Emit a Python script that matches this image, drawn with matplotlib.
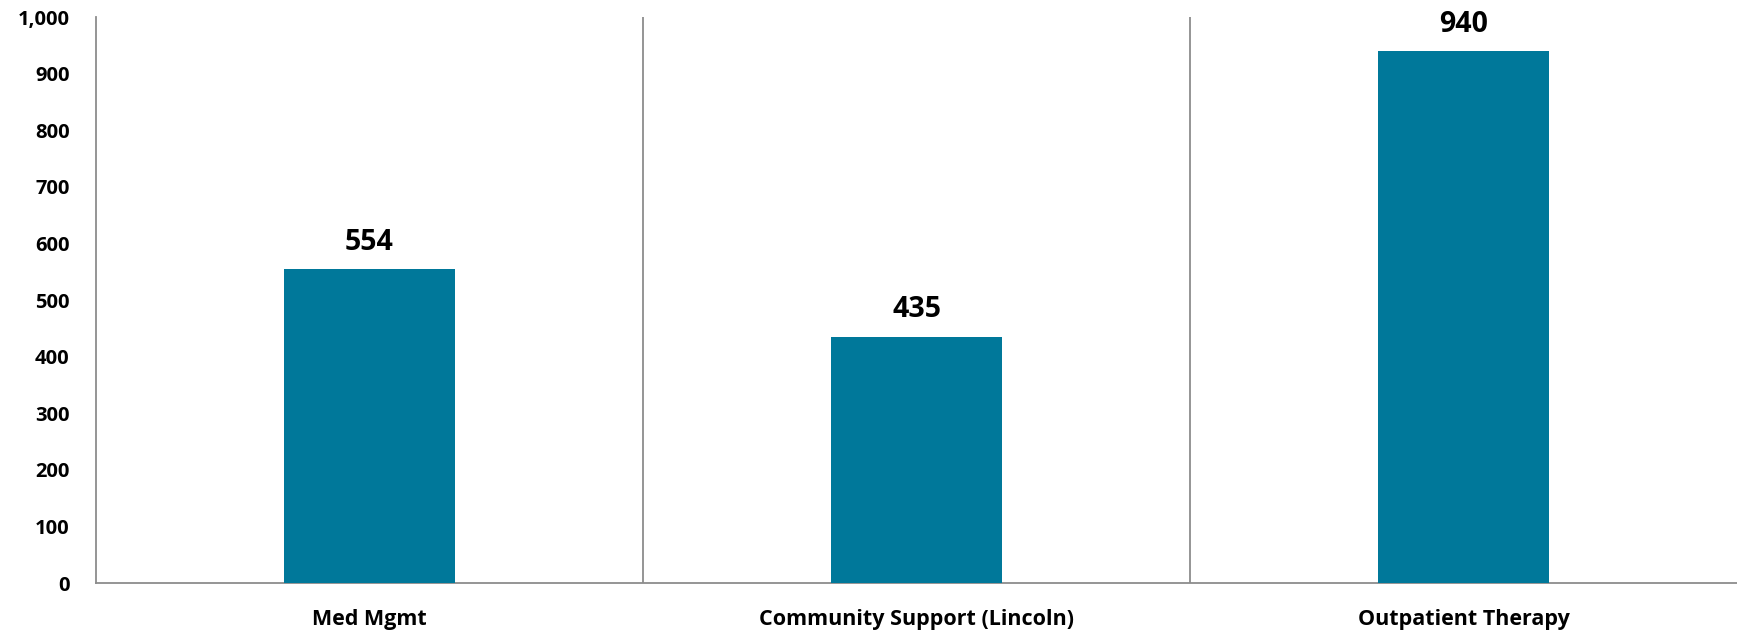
import matplotlib
matplotlib.use('Agg')
import matplotlib.pyplot as plt
from matplotlib.ticker import FuncFormatter

plt.rcParams['font.family'] = ['Open Sans', 'DejaVu Sans']
plt.rcParams['font.weight'] = 'bold'

categories = ['Med Mgmt', 'Community Support (Lincoln)', 'Outpatient Therapy']
values = [554, 435, 940]
y_ticks = [0, 100, 200, 300, 400, 500, 600, 700, 800, 900, 1000]

bar_color = '#00789A'
axis_color = '#8C8C8C'

fig = plt.figure(figsize=(17.37, 6.32), dpi=100)
ax = fig.add_axes([0.0553, 0.0775, 0.9447, 0.8955])

x = list(range(len(categories)))
bars = ax.bar(x, values, width=0.314, color=bar_color, zorder=3)

for b, v in zip(bars, values):
    ax.annotate(f'{v:,}', (b.get_x() + b.get_width() / 2, v),
                xytext=(0, 9), textcoords='offset points',
                ha='center', va='bottom', fontsize=20.5, fontweight='bold')

# category separators
for sep in [0.5, 1.5]:
    ax.axvline(sep, color=axis_color, lw=1.3, zorder=1)

ax.set_xlim(-0.5, len(categories) - 0.5)
ax.set_ylim(0, 1000)
ax.set_yticks(y_ticks)
ax.yaxis.set_major_formatter(FuncFormatter(lambda v, p: f'{int(v):,}'))
ax.set_xticks(x)
ax.set_xticklabels(categories)

ax.tick_params(axis='y', length=0, pad=19, labelsize=14.5)
ax.tick_params(axis='x', length=0, pad=19, labelsize=15.5)

for s in ['top', 'right']:
    ax.spines[s].set_visible(False)
for s in ['left', 'bottom']:
    ax.spines[s].set_color(axis_color)
    ax.spines[s].set_linewidth(1.3)

fig.savefig('out.png', dpi=100)
